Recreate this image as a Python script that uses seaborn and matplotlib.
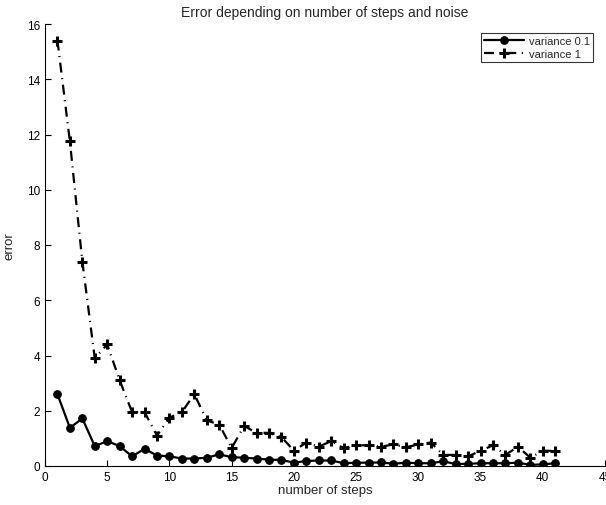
import matplotlib
matplotlib.use("Agg")
import matplotlib.pyplot as plt
import seaborn as sns
import numpy as np
import pandas as pd

steps = list(range(1, 42))
var01 = [2.6, 1.38, 1.72, 0.72, 0.9, 0.72, 0.35, 0.62, 0.38, 0.35,
         0.27, 0.27, 0.3, 0.42, 0.32, 0.3, 0.27, 0.23, 0.22, 0.12,
         0.18, 0.2, 0.2, 0.1, 0.12, 0.12, 0.13, 0.08, 0.12, 0.1,
         0.1, 0.17, 0.07, 0.08, 0.1, 0.1, 0.1, 0.12, 0.04, 0.06, 0.1]
var1 = [15.4, 11.75, 7.4, 3.9, 4.4, 3.1, 1.95, 1.95, 1.1, 1.75,
        1.95, 2.6, 1.65, 1.5, 0.65, 1.45, 1.2, 1.2, 1.05, 0.55,
        0.85, 0.7, 0.9, 0.65, 0.75, 0.75, 0.7, 0.78, 0.68, 0.78,
        0.85, 0.4, 0.4, 0.35, 0.55, 0.75, 0.4, 0.7, 0.3, 0.55, 0.55]
labels = ["variance 0.1", "variance 1"]

sns.set_theme(style="ticks")
plt.rcParams['font.family'] = ['Liberation Sans', 'DejaVu Sans']
plt.rcParams['xtick.direction'] = 'in'
plt.rcParams['ytick.direction'] = 'in'

fig = plt.figure(figsize=(6.06, 5.06), dpi=100)
ax = fig.add_axes([45/606, 1 - 467/506, 560/606, 442/506])

df1 = pd.DataFrame({"x": steps, "y": var01})
df2 = pd.DataFrame({"x": steps, "y": var1})
sns.lineplot(data=df1, x="x", y="y", ax=ax, color="black", linewidth=1.6,
             marker="o", markersize=5.5, markeredgecolor="black", label=labels[0])
sns.lineplot(data=df2, x="x", y="y", ax=ax, color="black", linewidth=1.6,
             marker="+", markersize=6.5, markeredgewidth=2.2, markeredgecolor="black",
             label=labels[1])
ax.lines[1].set_linestyle((0, (4.5, 2.5, 0.5, 2.5)))

ax.set_xlim(0, 45)
ax.set_ylim(0, 16)
ax.set_xticks(range(0, 46, 5))
ax.set_yticks(range(0, 17, 2))
ax.tick_params(labelsize=8.5, length=4, width=0.8, colors="black")
for s in ["top", "right"]:
    ax.spines[s].set_visible(False)
for s in ["left", "bottom"]:
    ax.spines[s].set_linewidth(0.8)
    ax.spines[s].set_color("black")
ax.set_xlabel("number of steps", fontsize=9.5, labelpad=1)
ax.set_ylabel("error", fontsize=9.5, labelpad=8)
ax.set_title("Error depending on number of steps and noise", fontsize=10, pad=6)

leg = ax.legend(loc="upper right", bbox_to_anchor=((593-45)/560, (467-34)/442), fontsize=8,
                frameon=True, fancybox=False, edgecolor="black",
                handlelength=3.6, borderpad=0.3, labelspacing=0.2, handletextpad=0.4,
                borderaxespad=0)
leg.get_frame().set_linewidth(0.8)

fig.savefig("out.png", dpi=100)
